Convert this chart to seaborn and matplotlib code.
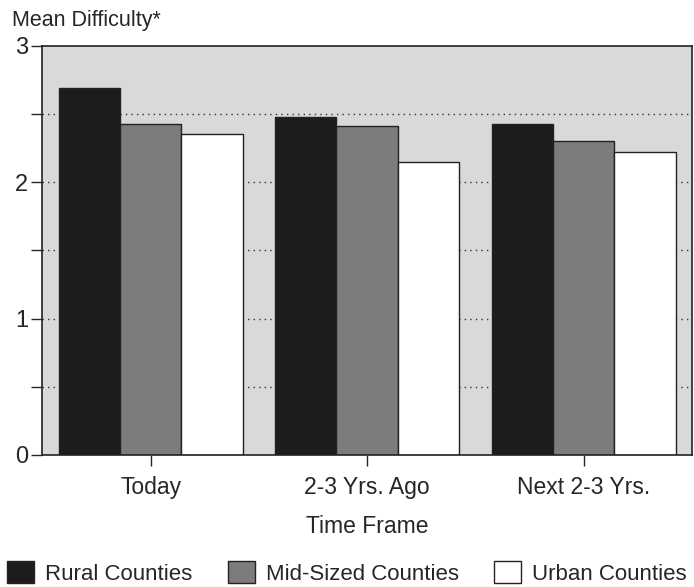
import pandas as pd
import numpy as np
import seaborn as sns
import matplotlib.pyplot as plt
from matplotlib.ticker import MultipleLocator

sns.set_style("white")
plt.rcParams['font.family'] = ['Liberation Sans', 'DejaVu Sans']

#data
time_frames = ["Today", "2-3 Yrs. Ago", "Next 2-3 Yrs."]
county_types = ["Rural Counties", "Mid-Sized Counties", "Urban Counties"]
rural = [2.69, 2.48, 2.43]
mid_sized = [2.43, 2.41, 2.30]
urban = [2.35, 2.15, 2.22]

df = pd.DataFrame({
    "time_frame": time_frames * 3,
    "county": np.repeat(county_types, 3),
    "difficulty": rural + mid_sized + urban,
})

colors = ["#1c1c1c", "#7c7c7c", "#ffffff"]

fig = plt.figure(figsize=(6.94, 5.87), dpi=100)
ax = fig.add_axes([0.061, 0.225, 0.936, 0.697])
ax.set_facecolor("#d9d9d9")

sns.barplot(data=df, x="time_frame", y="difficulty", hue="county",
            order=time_frames, hue_order=county_types, palette=colors,
            width=0.85, edgecolor="#222222", linewidth=1.0, saturation=1,
            legend=False, ax=ax)

#dotted grid every half unit
for yv in np.arange(0.5, 3.0, 0.5):
    ax.axhline(yv, color="#333333", ls=(0, (1, 3)), lw=1.0, zorder=0)

ax.set_xlim(-0.5, 2.5)
ax.set_ylim(0, 3)
ax.yaxis.set_major_locator(MultipleLocator(1))
ax.yaxis.set_minor_locator(MultipleLocator(0.5))
ax.tick_params(axis="y", which="both", direction="out", left=True, length=8, width=1, labelsize=17, pad=2)
ax.tick_params(axis="x", direction="out", bottom=True, length=8, width=1, labelsize=16.5, pad=7)
for s in ax.spines.values():
    s.set_color("#222222")
    s.set_linewidth(1.2)

ax.set_xlabel("Time Frame", fontsize=16.5, labelpad=12)
ax.set_ylabel("")
fig.text(0.017, 0.948, "Mean Difficulty*", fontsize=15.5, ha="left", va="bottom")

#legend along the bottom
handles = [plt.Rectangle((0, 0), 1, 1, facecolor=c, edgecolor="#222222", lw=1) for c in colors]
fig.legend(handles, county_types, loc="lower center", bbox_to_anchor=(0.5, -0.03), ncol=3,
           frameon=False, fontsize=16, handlelength=1.2, handleheight=1.2,
           handletextpad=0.5, columnspacing=1.6)

plt.savefig("out.png", dpi=100)
